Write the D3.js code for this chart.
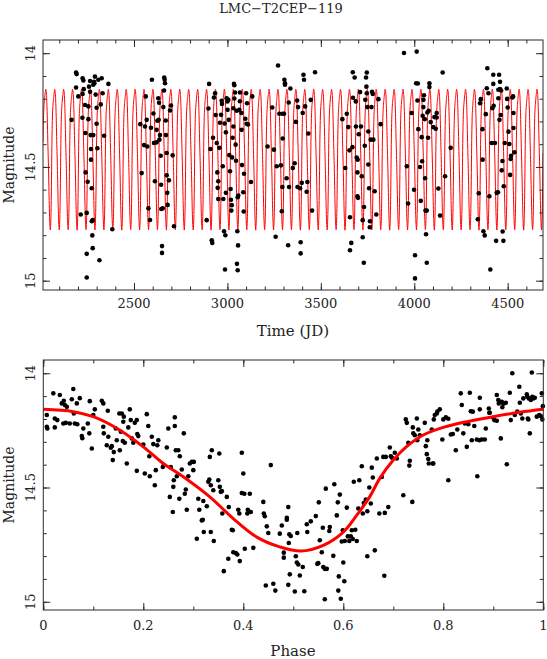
<!DOCTYPE html>
<html><head><meta charset="utf-8">
<script src="https://cdn.jsdelivr.net/npm/d3@7"></script>
<style>
body{margin:0;background:#fff}
svg{display:block}
text{font-family:"DejaVu Serif",serif;fill:#222}
</style>
</head><body>
<svg id="c" width="547" height="659"></svg>
<script>
// ---------------- data ----------------
const title = "LMC\u2212T2CEP\u2212119";
const timeLabel = "Time (JD)";
const phaseLabel = "Phase";
const magLabel = "Magnitude";
const timeTicks = [2500, 3000, 3500, 4000, 4500];
const timeMinorTicks = d3.range(2100, 4700, 100);
const magTicks = [14, 14.5, 15];
const magTickLabels = ["14", "14.5", "15"];
const magMinorTicks = d3.range(14, 15.01, 0.1);
const phaseTicks = [0, 0.2, 0.4, 0.6, 0.8, 1];
const phaseTickLabels = ["0", "0.2", "0.4", "0.6", "0.8", "1"];
const phaseMinorTicks = d3.range(0, 1.01, 0.1);
const timeDomain = [2013, 4689];
const magDomainTop = [13.942, 15.041];
const magDomainBottom = [13.942, 15.036];
const period = 47.8;
const epoch = 2027.5;

// fitted light curve (phase, magnitude)
const modelPhase = [0, 0.06, 0.1, 0.147, 0.2, 0.24, 0.28, 0.333, 0.38, 0.427, 0.473, 0.515, 0.56, 0.6, 0.627, 0.653, 0.673, 0.7, 0.727, 0.76, 0.8, 0.847, 0.9, 0.953, 1.0];
const modelMag = [14.158, 14.168, 14.19, 14.241, 14.322, 14.395, 14.453, 14.541, 14.636, 14.717, 14.76, 14.778, 14.753, 14.695, 14.621, 14.54, 14.46, 14.38, 14.32, 14.27, 14.237, 14.212, 14.19, 14.171, 14.158];

// observations: [time (JD), magnitude]
const timeSeries = [
[2166,14.293],[2190,14.085],[2193,14.092],[2190,14.151],[2202,14.190],[2215,14.709],[2224,14.284],[2225,14.110],[2229,14.120],[2231,14.158],[2225,14.179],[2238,14.228],[2240,14.351],[2241,14.524],[2247,14.702],[2247,14.882],[2247,14.986],[2252,14.565],[2256,14.234],[2256,14.290],[2259,14.147],[2265,14.122],[2265,14.170],[2268,14.360],[2270,14.421],[2270,14.468],[2274,14.594],[2274,14.739],[2277,14.801],[2279,14.734],[2279,14.857],[2282,14.360],[2282,14.139],[2286,14.126],[2288,14.132],[2291,14.103],[2295,14.182],[2300,14.240],[2300,14.310],[2304,14.418],[2309,14.117],[2315,14.910],[2322,14.225],[2327,14.110],[2332,14.176],[2340,14.363],[2363,14.135],[2384,14.774],
[2534,14.312],[2541,14.527],[2554,14.404],[2559,14.322],[2563,14.190],[2568,14.293],[2571,14.410],[2577,14.682],[2586,14.733],[2591,14.328],[2596,14.117],[2604,14.265],[2607,14.395],[2612,14.563],[2621,14.392],[2621,14.337],[2625,14.297],[2630,14.198],[2632,14.293],[2634,14.218],[2636,14.380],[2639,14.360],[2643,14.451],[2645,14.578],[2646,14.685],[2650,14.848],[2650,14.878],[2654,14.682],[2657,14.237],[2661,14.164],[2662,14.107],[2664,14.117],[2666,14.132],[2670,14.296],[2671,14.360],[2675,14.439],[2675,14.537],[2678,14.614],[2680,14.667],[2687,14.559],[2693,14.252],[2698,14.230],[2707,14.449],[2714,14.761],
[2889,14.734],[2898,14.243],[2902,14.135],[2909,14.421],[2916,14.822],[2919,14.834],[2923,14.372],[2928,14.195],[2934,14.176],[2937,14.272],[2943,14.395],[2946,14.524],[2948,14.592],[2951,14.563],[2951,14.641],[2957,14.416],[2960,14.306],[2966,14.271],[2969,14.209],[2971,14.223],[2975,14.497],[2978,14.641],[2982,14.783],[2985,14.309],[2987,14.951],[2989,14.800],[2992,14.348],[2992,14.614],[2996,14.198],[3000,14.212],[3001,14.249],[3005,14.205],[3007,14.293],[3010,14.448],[3014,14.519],[3017,14.597],[3019,14.644],[3021,14.692],[3023,14.668],[3025,14.458],[3028,14.372],[3032,14.322],[3032,14.242],[3035,14.135],[3037,14.141],[3037,14.199],[3041,14.173],[3044,14.402],[3046,14.473],[3050,14.253],[3053,14.783],[3055,14.633],[3057,14.845],[3051,14.926],[3055,14.954],[3058,14.626],[3064,14.249],[3067,14.173],[3067,14.211],[3075,14.263],[3076,14.337],[3078,14.492],[3085,14.611],[3087,14.696],[3089,14.530],[3096,14.288],[3100,14.176],[3103,14.310],[3105,14.220],[3110,14.313],[3126,14.566],[3133,14.190],
[3215,14.410],[3240,14.239],[3249,14.424],[3258,14.807],[3264,14.497],[3271,14.054],[3278,14.266],
[3287,14.493],[3291,14.695],[3296,14.266],[3303,14.266],[3296,14.375],[3294,14.588],[3305,14.117],[3308,14.132],[3308,14.139],[3317,14.550],[3328,14.217],[3325,14.844],[3330,14.588],[3337,14.155],[3350,14.505],[3360,14.484],[3367,14.302],[3373,14.208],[3378,14.237],[3375,14.588],[3389,14.594],[3392,14.831],[3392,14.880],[3398,14.570],[3403,14.263],[3407,14.095],[3410,14.117],[3416,14.234],[3424,14.609],[3428,14.566],[3433,14.353],[3446,14.205],[3453,14.692],[3469,14.084],
[3615,14.290],[3631,14.505],[3639,14.266],[3647,14.325],[3653,14.427],[3656,14.721],[3656,14.866],[3663,14.834],[3669,14.413],[3671,14.084],[3672,14.196],[3681,14.107],[3687,14.212],[3688,14.322],[3692,14.459],[3696,14.524],[3696,14.629],[3697,14.468],[3699,14.636],[3703,14.356],[3710,14.171],[3715,14.322],[3719,14.541],[3724,14.734],[3724,14.809],[3730,14.921],[3731,14.676],[3735,14.407],[3738,14.205],[3742,14.107],[3744,14.147],[3746,14.176],[3746,14.085],[3749,14.237],[3754,14.344],[3754,14.489],[3758,14.594],[3762,14.765],[3763,14.739],[3767,14.380],[3771,14.237],[3774,14.170],[3778,14.179],[3781,14.380],[3788,14.607],[3797,14.709],[3808,14.202],[3820,14.312],
[3945,13.999],[4013,13.993],[3960,14.497],[3967,14.661],[3986,14.263],[3999,14.600],[4004,14.888],[4004,14.990],[4010,14.132],[4019,14.133],[4017,14.208],[4022,14.334],[4031,14.500],[4035,14.649],[4040,14.369],[4042,14.475],[4045,14.275],[4049,14.205],[4049,14.237],[4052,14.185],[4056,14.290],[4058,14.550],[4060,14.692],[4063,14.796],[4067,14.692],[4067,14.921],[4070,14.261],[4074,14.372],[4077,14.253],[4081,14.149],[4081,14.132],[4088,14.303],[4102,14.325],[4108,14.281],[4115,14.332],[4120,14.263],[4120,14.283],[4129,14.595],[4138,14.714],[4152,14.085],[4165,14.541],[4195,14.416],
[4340,14.730],[4345,14.616],[4352,14.220],[4356,14.202],[4365,14.334],[4366,14.468],[4370,14.783],[4377,14.801],[4383,14.268],[4388,14.154],[4391,14.066],[4397,14.176],[4402,14.629],[4407,14.951],[4415,14.395],[4418,14.242],[4423,14.135],[4423,14.095],[4425,14.231],[4432,14.395],[4438,14.825],[4441,14.614],[4448,14.611],[4450,14.198],[4454,14.095],[4450,14.161],[4456,14.293],[4459,14.126],[4459,14.158],[4463,14.272],[4465,14.164],[4468,14.515],[4472,14.474],[4473,14.784],[4477,14.825],[4479,14.585],[4484,14.395],[4495,14.155],[4497,14.201],[4500,14.239],[4504,14.345],[4509,14.399],[4513,14.535],[4516,14.465],[4518,14.451],[4525,14.195],[4529,14.190],[4531,14.263],[4531,14.329],[4536,14.436]
];

// phased observations: [phase, magnitude]
const phased = [
[0.007,14.183],[0.007,14.234],[0.008,14.242],[0.020,14.088],[0.023,14.198],[0.023,14.237],[0.028,14.205],[0.033,14.095],[0.037,14.132],[0.040,14.220],[0.041,14.120],[0.043,14.139],[0.045,14.217],[0.047,14.147],[0.053,14.220],[0.057,14.114],[0.060,14.069],[0.061,14.176],[0.063,14.220],[0.067,14.132],[0.068,14.223],[0.073,14.109],[0.077,14.275],[0.078,14.284],[0.080,14.242],[0.089,14.220],[0.092,14.263],[0.093,14.122],[0.097,14.329],[0.100,14.183],[0.103,14.158],[0.117,14.120],[0.120,14.132],[0.120,14.234],[0.121,14.263],[0.127,14.315],[0.129,14.164],[0.130,14.278],[0.135,14.326],[0.137,14.319],[0.139,14.380],[0.141,14.345],[0.145,14.242],[0.147,14.293],[0.152,14.176],[0.153,14.337],[0.155,14.256],[0.157,14.176],[0.159,14.297],[0.160,14.212],[0.161,14.190],[0.163,14.304],[0.167,14.395],[0.170,14.237],[0.173,14.158],[0.175,14.205],[0.177,14.285],[0.180,14.304],[0.183,14.217],[0.187,14.205],[0.187,14.427],[0.188,14.266],[0.190,14.275],[0.200,14.312],[0.203,14.439],[0.207,14.179],[0.210,14.231],[0.212,14.363],[0.213,14.451],[0.217,14.278],[0.220,14.310],[0.223,14.490],[0.225,14.424],[0.228,14.315],[0.230,14.293],[0.239,14.410],[0.241,14.402],[0.247,14.325],[0.250,14.242],[0.253,14.541],[0.255,14.410],[0.259,14.607],[0.260,14.497],[0.261,14.468],[0.263,14.193],[0.263,14.231],[0.265,14.337],[0.267,14.451],[0.270,14.337],[0.272,14.549],[0.273,14.363],[0.277,14.421],[0.281,14.263],[0.283,14.527],[0.285,14.509],[0.287,14.597],[0.290,14.451],[0.293,14.395],[0.297,14.388],[0.300,14.424],[0.301,14.388],[0.307,14.724],[0.310,14.549],[0.312,14.597],[0.317,14.644],[0.319,14.641],[0.320,14.559],[0.321,14.695],[0.327,14.582],[0.330,14.475],[0.332,14.465],[0.333,14.366],[0.335,14.695],[0.335,14.490],[0.337,14.337],[0.340,14.512],[0.341,14.734],[0.350,14.468],[0.352,14.351],[0.353,14.497],[0.355,14.519],[0.357,14.516],[0.358,14.614],[0.361,14.866],[0.367,14.541],[0.370,14.812],[0.371,14.585],[0.377,14.685],[0.379,14.687],[0.380,14.783],[0.385,14.787],[0.388,14.793],[0.390,14.597],[0.392,14.614],[0.393,14.822],[0.397,14.348],[0.397,14.524],[0.400,14.439],[0.402,14.527],[0.403,14.768],[0.408,14.614],[0.409,14.597],[0.413,14.527],[0.415,14.607],[0.420,14.764],[0.440,14.563],[0.441,14.614],[0.443,14.626],[0.445,14.929],[0.447,14.670],[0.450,14.699],[0.455,14.402],[0.460,14.921],[0.464,14.951],
[0.473,14.702],[0.477,14.666],[0.481,14.807],[0.481,14.785],[0.487,14.632],[0.487,14.641],[0.490,14.585],[0.490,14.926],[0.491,14.743],[0.492,14.705],[0.493,14.880],[0.495,14.712],[0.503,14.955],[0.505,14.801],[0.507,14.828],[0.508,14.699],[0.510,14.837],[0.513,14.885],[0.519,14.848],[0.522,14.954],[0.527,14.661],[0.528,14.695],[0.535,14.648],[0.545,14.625],[0.548,14.834],[0.550,14.831],[0.551,14.565],[0.553,14.731],[0.557,14.783],[0.559,14.676],[0.560,14.848],[0.563,14.856],[0.563,14.989],[0.565,14.505],[0.567,14.856],[0.572,14.690],[0.573,14.673],[0.580,14.799],[0.582,14.486],[0.587,14.622],[0.589,14.565],[0.590,14.951],[0.591,14.889],[0.593,14.531],[0.595,14.987],[0.597,14.736],[0.599,14.687],[0.600,14.828],[0.602,14.910],[0.603,14.734],[0.607,14.588],[0.609,14.714],[0.612,14.734],[0.615,14.714],[0.617,14.687],[0.619,14.725],[0.621,14.475],[0.624,14.685],[0.627,14.734],[0.630,14.592],[0.632,14.468],[0.637,14.407],[0.639,14.614],[0.641,14.568],[0.645,14.553],[0.648,14.604],[0.648,14.801],[0.652,14.500],[0.655,14.570],[0.657,14.413],[0.659,14.456],[0.663,14.775],[0.667,14.373],[0.672,14.614],[0.677,14.454],[0.680,14.366],[0.682,14.886],[0.683,14.611],[0.685,14.366],[0.690,14.585],[0.693,14.325],[0.695,14.363],[0.697,14.369],[0.703,14.348],[0.707,14.373],[0.720,14.534],[0.725,14.202],[0.727,14.217],[0.730,14.304],[0.733,14.383],[0.732,14.404],[0.738,14.563],[0.739,14.237],[0.740,14.263],[0.743,14.271],[0.747,14.198],[0.748,14.293],[0.750,14.246],[0.753,14.271],[0.763,14.217],[0.765,14.319],[0.767,14.354],[0.768,14.293],[0.770,14.375],[0.771,14.395],[0.777,14.246],[0.779,14.395],[0.780,14.395],[0.781,14.202],[0.783,14.183],[0.787,14.176],[0.788,14.168],[0.793,14.158],[0.798,14.290],[0.800,14.202],[0.805,14.193],[0.810,14.199],[0.810,14.468],[0.815,14.268],[0.819,14.266],[0.825,14.337],[0.828,14.246],[0.835,14.088],[0.837,14.139],[0.840,14.263],[0.843,14.220],[0.847,14.322],[0.850,14.223],[0.853,14.085],[0.855,14.166],[0.857,14.293],[0.859,14.168],[0.862,14.231],[0.867,14.290],[0.868,14.451],[0.872,14.293],[0.873,14.107],[0.877,14.290],[0.873,14.158],[0.883,14.290],[0.885,14.242],[0.891,14.154],[0.892,14.173],[0.893,14.173],[0.900,14.195],[0.902,14.205],[0.907,14.208],[0.907,14.095],[0.910,14.117],[0.911,14.132],[0.913,14.125],[0.915,14.285],[0.917,14.125],[0.918,14.149],[0.920,14.132],[0.921,14.132],[0.925,14.129],[0.927,14.398],[0.933,14.085],[0.935,14.205],[0.938,14.000],[0.943,14.183],[0.948,14.168],[0.952,14.059],[0.953,14.129],[0.955,14.176],[0.958,14.198],[0.960,14.110],[0.967,14.092],[0.968,14.103],[0.969,14.198],[0.970,14.202],[0.971,14.110],[0.973,14.263],[0.975,14.117],[0.977,13.997],[0.978,14.103],[0.980,14.110],[0.983,14.107],[0.987,14.190],[0.992,14.183],[0.995,14.187],[0.997,14.088],[0.998,14.202],[0.999,14.144]
];

// ---------------- drawing ----------------
const svg = d3.select("#c");
const ink = "#2a2a2a";

const xT = d3.scaleLinear().domain(timeDomain).range([43, 543]);
const yT = d3.scaleLinear().domain(magDomainTop).range([40, 290]);
const xP = d3.scaleLinear().domain([0, 1]).range([43.3, 543.3]);
const yP = d3.scaleLinear().domain(magDomainBottom).range([360, 610]);
const modelScale = d3.scaleLinear().domain(modelPhase).range(modelMag);

function frame(x, y, xMajor, xMinor, yMajor, yMinor) {
  const g = svg.append("g");
  const [x0, x1] = x.range(), [y0, y1] = y.range();
  const add = (axis, tr) => {
    const a = g.append("g").attr("transform", tr).call(axis);
    a.select(".domain").remove();
    a.selectAll("text").remove();
    a.selectAll("line").attr("stroke", ink).attr("stroke-width", 1);
  };
  add(d3.axisBottom(x).tickValues(xMajor).tickSize(-7), `translate(0,${y1})`);
  add(d3.axisBottom(x).tickValues(xMinor).tickSize(-3.5), `translate(0,${y1})`);
  add(d3.axisTop(x).tickValues(xMajor).tickSize(-7), `translate(0,${y0})`);
  add(d3.axisTop(x).tickValues(xMinor).tickSize(-3.5), `translate(0,${y0})`);
  add(d3.axisLeft(y).tickValues(yMajor).tickSize(-7), `translate(${x0},0)`);
  add(d3.axisLeft(y).tickValues(yMinor).tickSize(-3.5), `translate(${x0},0)`);
  add(d3.axisRight(y).tickValues(yMajor).tickSize(-7), `translate(${x1},0)`);
  add(d3.axisRight(y).tickValues(yMinor).tickSize(-3.5), `translate(${x1},0)`);
  g.append("rect").attr("x", x0).attr("y", y0).attr("width", x1 - x0).attr("height", y1 - y0)
    .attr("fill", "none").attr("stroke", ink).attr("stroke-width", 1);
}

function yLabels(y, ctrY) {
  magTicks.forEach((v, i) => {
    svg.append("text").attr("transform", `translate(35,${y(v)}) rotate(-90)`)
      .attr("text-anchor", "middle").attr("font-size", 13).text(magTickLabels[i]);
  });
  svg.append("text").attr("transform", `translate(14,${ctrY}) rotate(-90)`)
    .attr("text-anchor", "middle").attr("font-size", 14).text(magLabel);
}

// title
svg.append("text").attr("x", 281).attr("y", 13).attr("text-anchor", "middle")
  .attr("font-size", 13).text(title);

// ---- top panel ----
const clipT = svg.append("clipPath").attr("id", "clipT");
clipT.append("rect").attr("x", 43).attr("y", 40).attr("width", 500).attr("height", 250);
const tSamples = d3.range(timeDomain[0], timeDomain[1] + 0.5, 0.5);
const modelLine = d3.line()
  .x(t => xT(t))
  .y(t => { let ph = ((t - epoch) / period) % 1; if (ph < 0) ph += 1; return yT(modelScale(ph)); });
svg.append("path").attr("clip-path", "url(#clipT)").attr("d", modelLine(tSamples))
  .attr("fill", "none").attr("stroke", "#ff0000").attr("stroke-width", 1);
svg.append("g").selectAll("circle").data(timeSeries).join("circle")
  .attr("cx", d => xT(d[0])).attr("cy", d => yT(d[1])).attr("r", 2.3).attr("fill", "#000");
frame(xT, yT, timeTicks, timeMinorTicks, magTicks, magMinorTicks);
timeTicks.forEach(v => svg.append("text").attr("x", xT(v)).attr("y", 308)
  .attr("text-anchor", "middle").attr("font-size", 13).text(v));
svg.append("text").attr("x", 293).attr("y", 336).attr("text-anchor", "middle")
  .attr("font-size", 15).text(timeLabel);
yLabels(yT, 165);

// ---- bottom panel ----
svg.append("g").selectAll("circle").data(phased).join("circle")
  .attr("cx", d => xP(d[0])).attr("cy", d => yP(d[1])).attr("r", 2.3).attr("fill", "#000");
const curve = d3.line().x((p, i) => xP(p)).y((p, i) => yP(modelMag[i])).curve(d3.curveCatmullRom.alpha(0.5));
svg.append("path").attr("d", curve(modelPhase)).attr("fill", "none")
  .attr("stroke", "#ff0000").attr("stroke-width", 3);
frame(xP, yP, phaseTicks, phaseMinorTicks, magTicks, magMinorTicks);
phaseTicks.forEach((v, i) => svg.append("text").attr("x", xP(v)).attr("y", 630)
  .attr("text-anchor", "middle").attr("font-size", 13).text(phaseTickLabels[i]));
svg.append("text").attr("x", 293).attr("y", 656).attr("text-anchor", "middle")
  .attr("font-size", 15).text(phaseLabel);
yLabels(yP, 485);
</script>
</body></html>
